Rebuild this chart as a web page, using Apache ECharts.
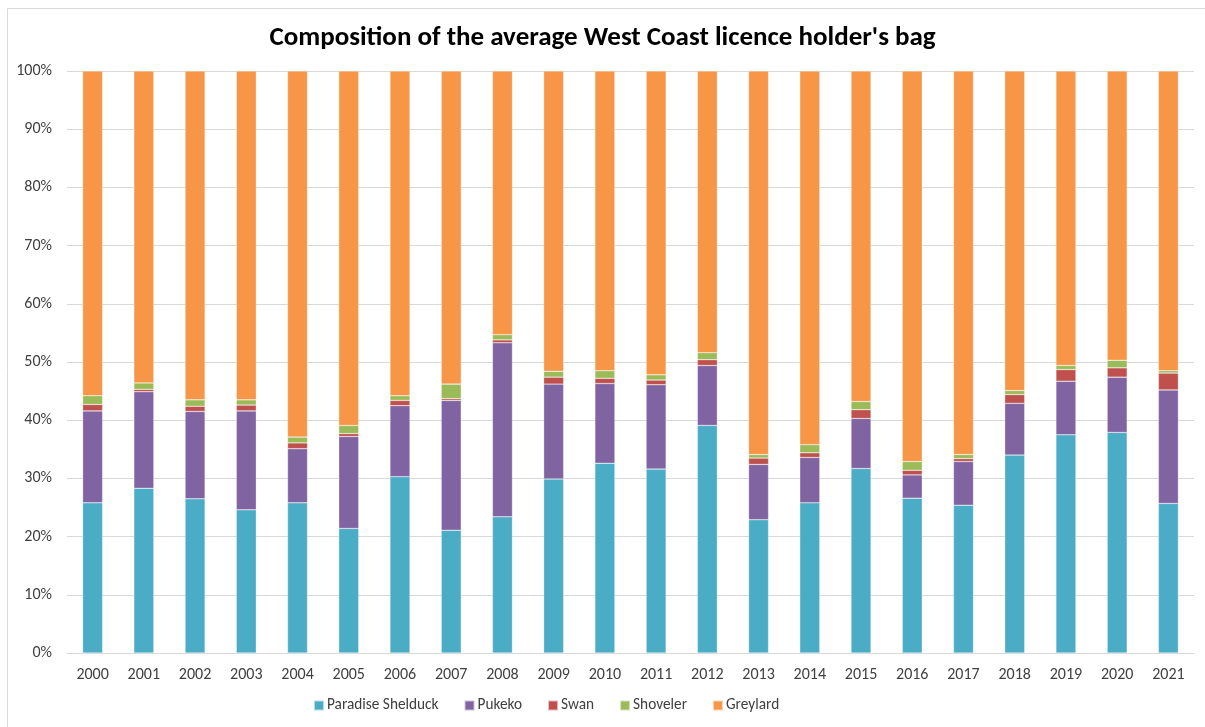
<!DOCTYPE html>
<html>
<head>
<meta charset="utf-8">
<script src="https://cdn.jsdelivr.net/npm/echarts@6/dist/echarts.min.js"></script>
<style>
html,body{margin:0;padding:0;background:#fff;}
#chart{width:1205px;height:727px;}
</style>
</head>
<body>
<div id="chart"></div>
<script>
const years = ['2000','2001','2002','2003','2004','2005','2006','2007','2008','2009','2010','2011','2012','2013','2014','2015','2016','2017','2018','2019','2020','2021'];
const paradiseShelduck = [25.8,28.3,26.5,24.6,25.8,21.4,30.3,21.1,23.4,29.9,32.6,31.6,39.1,22.9,25.8,31.7,26.6,25.4,34.0,37.5,37.9,25.7];
const pukeko = [15.8,16.6,15.0,17.0,9.3,15.8,12.2,22.3,29.9,16.3,13.7,14.5,10.3,9.5,7.8,8.6,4.0,7.5,8.9,9.2,9.5,19.5];
const swan = [1.1,0.4,0.9,1.0,1.0,0.5,0.9,0.3,0.5,1.2,0.9,0.8,1.0,1.1,0.8,1.5,0.8,0.5,1.5,2.0,1.6,2.9];
const shoveler = [1.5,1.1,1.1,0.9,1.0,1.4,0.8,2.5,0.9,1.0,1.3,0.9,1.2,0.6,1.4,1.4,1.5,0.7,0.7,0.7,1.3,0.4];
const greylard = [55.8,53.6,56.5,56.5,62.9,60.9,55.8,53.8,45.3,51.6,51.5,52.2,48.4,65.9,64.2,56.8,67.1,65.9,54.9,50.6,49.7,51.5];
const seriesNames = ['Paradise Shelduck','Pukeko','Swan','Shoveler','Greylard'];
const seriesData = [paradiseShelduck,pukeko,swan,shoveler,greylard];
const colors = ['#4BACC6','#8064A2','#C0504D','#9BBB59','#F79646'];
const yTicks = [0,10,20,30,40,50,60,70,80,90,100];

const font = 'Carlito, "Open Sans", "Liberation Sans", sans-serif';
const chart = echarts.init(document.getElementById('chart'));
chart.setOption({
  animation:false,
  color: colors,
  title:{
    text:"Composition of the average West Coast licence holder's bag",
    left:'center', top:20,
    textStyle:{fontFamily:font, fontWeight:'bold', fontSize:27, color:'#000'}
  },
  graphic:[{type:'rect', shape:{x:7.5,y:8.5,width:1210,height:730}, style:{fill:'none', stroke:'#d9d9d9', lineWidth:1}, silent:true}],
  grid:{left:67, right:11, top:71, bottom:74},
  legend:{
    bottom:9, left:308, itemWidth:10, itemHeight:10, itemGap:25, icon:'rect',
    textStyle:{fontFamily:font, fontSize:15.3, color:'#404040', padding:[0,0,0,-2]},
    data: seriesNames
  },
  xAxis:{
    type:'category', data:years,
    axisLine:{lineStyle:{color:'#d9d9d9'}},
    axisTick:{show:false},
    axisLabel:{fontFamily:font, fontSize:16, color:'#404040', margin:14}
  },
  yAxis:{
    type:'value', min:0, max:100, interval:10,
    axisLabel:{fontFamily:font, fontSize:16, color:'#404040', formatter: v => yTicks.includes(v) ? v + '%' : '', margin:15},
    splitLine:{lineStyle:{color:'#d9d9d9', width:1}},
    axisLine:{show:false}, axisTick:{show:false}
  },
  series: seriesNames.map((n,i)=>({
    name:n, type:'bar', stack:'total', data:seriesData[i], barWidth:20,
    itemStyle:{borderColor:'rgba(255,255,255,0.6)', borderWidth:0.5}
  }))
});
</script>
</body>
</html>
